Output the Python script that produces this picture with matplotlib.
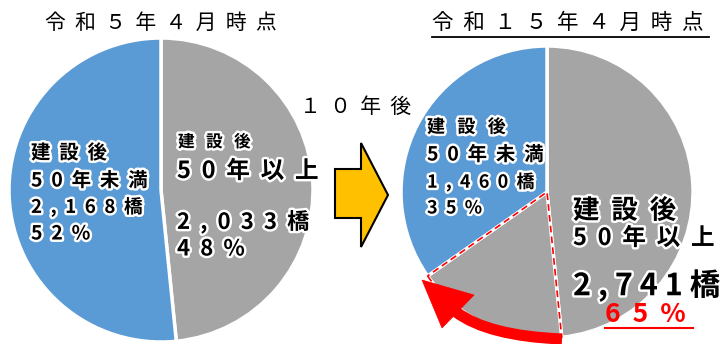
import matplotlib
matplotlib.use('Agg')
import matplotlib.pyplot as plt
import matplotlib.patheffects as pe
from matplotlib.patches import Polygon, PathPatch, Wedge
from matplotlib.path import Path

# ---- data ----
r5_counts = [2033, 2168]          # 建設後50年以上, 建設後50年未満 (令和5年)
r15_counts = [2033, 708, 1460]    # 既に50年以上, 新たに50年以上, 50年未満 (令和15年)
titles = ['令和5年4月時点', '令和15年4月時点']
gap_label = '10年後'
over_label = '50年以上'
under_label = '50年未満'
head_label = '建設後'

W, H = 721, 344
BLUE = '#5B9BD5'
GRAY = '#A5A5A5'

plt.rcParams['font.family'] = ['Noto Sans CJK JP', 'DejaVu Sans']
fig = plt.figure(figsize=(W / 100, H / 100), dpi=100)
ax = fig.add_axes([0, 0, 1, 1])


def Y(py):
    return H - py


FW = str.maketrans('0123456789,%', '０１２３４５６７８９，％')


def sp(s, n=1):
    return (' ' * n).join(s)


glow = [pe.withStroke(linewidth=3.5, foreground='white')]

# ---- pies ----
w5, _ = ax.pie(r5_counts, colors=[GRAY, BLUE], startangle=90, counterclock=False,
               center=(161, Y(190)), radius=152,
               wedgeprops=dict(edgecolor='white', linewidth=2.5))
w15, _ = ax.pie(r15_counts, colors=[GRAY, GRAY, BLUE], startangle=90, counterclock=False,
                center=(547, Y(192)), radius=146, explode=[0.03, 0, 0],
                wedgeprops=dict(edgecolor='white', linewidth=2.5))
nw = w15[1]
ax.add_patch(Wedge(nw.center, nw.r, nw.theta1, nw.theta2, fill=False,
                   edgecolor='red', linewidth=1.2, linestyle=(0, (4, 2.5)), zorder=5))

ax.set_xlim(0, W)
ax.set_ylim(0, H)
ax.set_aspect('equal')
ax.axis('off')

# ---- yellow arrow ----
ax.add_patch(Polygon([(335, Y(169)), (361, Y(169)), (361, Y(143)), (388, Y(195)),
                      (361, Y(247)), (361, Y(218)), (335, Y(218))],
                     closed=True, facecolor='#FFC000', edgecolor='black', linewidth=1.5, zorder=4))

# ---- red curved arrow ----
shaft = Path([(562, Y(339)), (488, Y(336)), (456, Y(312))],
             [Path.MOVETO, Path.CURVE3, Path.CURVE3])
ax.add_patch(PathPatch(shaft, fill=False, edgecolor='red', linewidth=8,
                       capstyle='butt', zorder=6))
ax.add_patch(Polygon([(422, Y(280)), (474, Y(295)), (442, Y(328))], closed=True,
                     facecolor='red', edgecolor='red', linewidth=0.5, zorder=6))

# ---- titles ----
ax.text(45, Y(23), sp(titles[0].translate(FW), 2), fontsize=15, ha='left', va='center')
ax.text(432, Y(23), sp(titles[1].translate(FW), 2), fontsize=15.5, ha='left', va='center')
ax.plot([432, 709], [Y(37), Y(37)], color='black', linewidth=1.3)
ax.text(300, Y(107), sp(gap_label.translate(FW), 2), fontsize=15, ha='left', va='center')

tot5 = sum(r5_counts)
tot15 = sum(r15_counts)
r15_over = r15_counts[0] + r15_counts[1]


def lab(x, y, s, fs, color='black', effects=glow):
    ax.text(x, Y(y), s, fontsize=fs, fontweight='bold', ha='left', va='center',
            color=color, path_effects=effects, zorder=7)


# left blue
lab(31, 153, sp(head_label, 2), 14)
lab(31, 181, sp(under_label, 2), 14)
lab(31, 207, sp(f'{r5_counts[1]:,}橋', 2), 13.5)
lab(31, 234, sp(f'{round(100 * r5_counts[1] / tot5)}%', 2), 14)
# left gray
lab(178, 142, sp(head_label, 3), 12)
lab(177, 171, sp(over_label, 2), 17)
lab(177, 222, sp(f'{r5_counts[0]:,}橋', 2), 16)
lab(177, 249, sp(f'{round(100 * r5_counts[0] / tot5)}%', 2), 16)
# right blue
lab(427, 127, sp(head_label, 3), 13)
lab(427, 155, sp(under_label, 2), 14)
lab(427, 182, sp(f'{r15_counts[2]:,}橋', 2), 13)
lab(427, 208, sp(f'{round(100 * r15_counts[2] / tot15)}%', 2), 13)
# right gray
lab(573, 211, sp(head_label, 2), 19)
lab(573, 238, sp(over_label, 2), 17)
lab(573, 286, sp(f'{r15_over:,}橋'), 22)
lab(605, 314, sp(f'{round(100 * r15_over / tot15)}%', 2), 19, color='red', effects=None)
ax.plot([605, 693], [Y(328), Y(328)], color='red', linewidth=1.5, zorder=7)

fig.savefig('out.png', dpi=100)
